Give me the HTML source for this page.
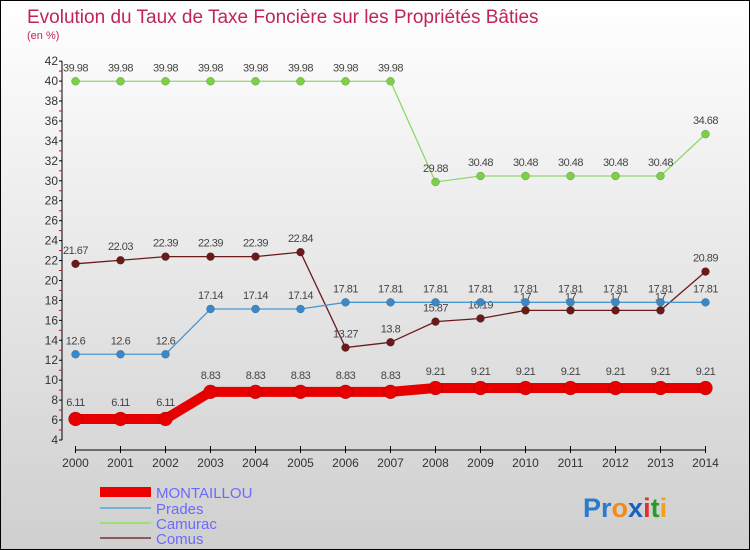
<!DOCTYPE html>
<html><head><meta charset="utf-8"><style>
body{margin:0}
#c{position:relative;width:750px;height:550px;overflow:hidden;background:linear-gradient(#ffffff,#cfcfcf);box-sizing:border-box;border:1px solid #000;font-family:"Liberation Sans",sans-serif}
</style></head><body>
<div id="c">
<svg width="750" height="550" style="position:absolute;left:-1px;top:-1px">
<text x="27" y="23" font-size="19" fill="#c0245a">Evolution du Taux de Taxe Foncière sur les Propriétés Bâties</text>
<text x="27" y="39" font-size="11" fill="#c0245a">(en %)</text>
<g id="axes"></g><g id="series"></g>
<g>
<rect x="100" y="487" width="51" height="10" fill="#e00"/>
<text x="156" y="498" font-size="15" fill="#6a6aff">MONTAILLOU</text>
<rect x="100" y="507" width="51" height="2" fill="#7ab0d8"/>
<text x="156" y="514" font-size="15" fill="#6a6aff">Prades</text>
<rect x="100" y="522" width="51" height="2" fill="#9be07a"/>
<text x="156" y="529" font-size="15" fill="#6a6aff">Camurac</text>
<rect x="100" y="537" width="51" height="2" fill="#8a5a5a"/>
<text x="156" y="544" font-size="15" fill="#6a6aff">Comus</text>
</g>
<text x="583" y="517" font-size="27" font-weight="bold"><tspan fill="#2a7ad0">Pr</tspan><tspan fill="#f08a1a">o</tspan><tspan fill="#1a60c0">x</tspan><tspan fill="#e03030">i</tspan><tspan fill="#2a9a2a">t</tspan><tspan fill="#f0a020">i</tspan></text>
</svg>
</div>
<script>
const years=[2000,2001,2002,2003,2004,2005,2006,2007,2008,2009,2010,2011,2012,2013,2014];
const yTicks=[4,6,8,10,12,14,16,18,20,22,24,26,28,30,32,34,36,38,40,42];
const montaillou=[6.11,6.11,6.11,8.83,8.83,8.83,8.83,8.83,9.21,9.21,9.21,9.21,9.21,9.21,9.21];
const prades=[12.6,12.6,12.6,17.14,17.14,17.14,17.81,17.81,17.81,17.81,17.81,17.81,17.81,17.81,17.81];
const camurac=[39.98,39.98,39.98,39.98,39.98,39.98,39.98,39.98,29.88,30.48,30.48,30.48,30.48,30.48,34.68];
const comus=[21.67,22.03,22.39,22.39,22.39,22.84,13.27,13.8,15.87,16.19,17,17,17,17,20.89];
const NS="http://www.w3.org/2000/svg";
const X=i=>75.5+i*45;
const Y=v=>440-(v-4)*9.97;
function mk(t,a,p){const e=document.createElementNS(NS,t);for(const k in a)e.setAttribute(k,a[k]);p.appendChild(e);return e;}
const ax=document.getElementById('axes');
let l=mk('line',{x1:62,y1:Y(42),x2:62,y2:Y(4),stroke:'#000'},ax);


l=mk('line',{x1:X(0),y1:450,x2:X(14),y2:450,stroke:'#000'},ax);


yTicks.forEach(v=>{
 mk('line',{x1:59,y1:Y(v),x2:62,y2:Y(v),stroke:'#000'},ax);
 if(v<42)mk('line',{x1:59,y1:Y(v+1),x2:62,y2:Y(v+1),stroke:'#e00'},ax);
 const t=mk('text',{x:58,y:Y(v)+4,'font-size':12,fill:'#333','text-anchor':'end'},ax);t.textContent=v;
 
 
});
years.forEach((y,i)=>{
 mk('line',{x1:X(i),y1:446,x2:X(i),y2:453,stroke:'#000'},ax);
 const t=mk('text',{x:X(i),y:467,'font-size':12,fill:'#333','text-anchor':'middle'},ax);t.textContent=y;
 
 
});
const sg=document.getElementById('series');
function draw(name,vals,col,dot,w,r){
 const g=mk('g',{},sg);
 
 
 mk('polyline',{points:vals.map((v,i)=>X(i)+','+Y(v)).join(' '),fill:'none',stroke:col,'stroke-width':w},g);
 vals.forEach((v,i)=>{
  const c=mk('circle',{cx:X(i),cy:Y(v),r:r,fill:dot,stroke:'rgba(0,0,0,0.3)','stroke-width':0.5},g);
  
  
  const t=mk('text',{x:X(i),y:Y(v)-(r+6),'font-size':11,fill:'#444','text-anchor':'middle','letter-spacing':'-0.5'},g);
  t.textContent=String(v);
  
  
 });
}
draw('camurac',camurac,'#8fd86a','#7cd046',1.3,4);
draw('comus',comus,'#6b1a1a','#6b1a1a',1.3,4);
draw('prades',prades,'#4a96d0','#3a88c8',1.3,4);
draw('montaillou',montaillou,'#e80000','#e80000',10,7);
</script>
</body></html>
